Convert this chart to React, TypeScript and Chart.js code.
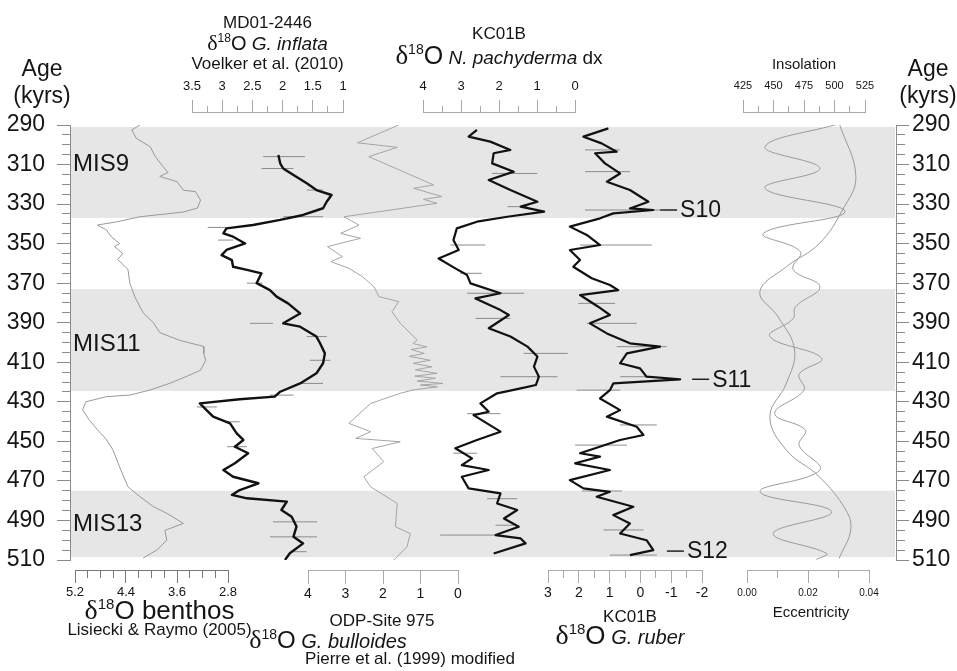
import React, { useEffect, useRef } from 'react';
import { Chart, registerables } from 'chart.js';

Chart.register(...registerables);

// ---------------- data ----------------
const AGE_MIN = 290;
const AGE_MAX = 510;
const AGE_TICK_LABELS = [290, 310, 330, 350, 370, 390, 410, 430, 450, 470, 490, 510];
const AGE_TICKS = Array.from({ length: 45 }, (_, i) => 290 + 5 * i);

const MIS_BANDS: [number, number][] = [[291, 337], [373, 424.5], [475, 508.5]];
const MIS_LABELS = ['MIS9', 'MIS11', 'MIS13'];
const MIS_LABEL_AGES = [310, 401, 492];

const S_LABELS = ['S10', 'S11', 'S12'];
const S_LABEL_AGES = [333, 418.6, 505.5];
const S_LABEL_RUBER = [-0.64, -1.68, -0.86];

// benthic d18O (Lisiecki & Raymo 2005)
const BENTHOS_AGE = [290, 292.5, 296.7, 301, 306, 311, 314, 316, 318.7, 323, 323.7, 328, 332, 334, 336.4, 339, 340.6, 343, 346.5, 350, 351.5, 355, 358, 363, 370, 377, 382, 385, 390, 395, 399, 402, 405.5, 409, 414, 417, 420.6, 424, 426.6, 427.4, 430, 434, 439, 444, 449, 454, 463, 473, 478, 483, 486.4, 491.5, 495, 500, 505, 509];
const BENTHOS_D18O = [4.18, 4.31, 4.24, 4.02, 3.94, 3.82, 3.74, 3.87, 3.6, 3.5, 3.31, 3.23, 3.28, 3.5, 4.18, 4.55, 4.85, 4.71, 4.63, 4.5, 4.58, 4.45, 4.53, 4.37, 4.34, 4.26, 4.18, 4.13, 3.97, 3.87, 3.55, 3.18, 3.18, 3.15, 3.23, 3.44, 3.71, 4.02, 4.34, 4.71, 5.03, 5.08, 4.98, 4.85, 4.71, 4.61, 4.5, 4.37, 4.18, 3.97, 3.76, 3.5, 3.79, 3.76, 3.92, 4.13];

// G. inflata MD01-2446
const INFLATA_AGE = [305.2, 309.4, 312, 315.3, 319.5, 322.9, 325.4, 328.8, 332.1, 335.5, 338, 340.6, 342.3, 344.8, 346.5, 349.9, 353.2, 355.8, 358.3, 361.7, 363.3, 365, 370, 373.5, 376.8, 380.2, 385.3, 390.3, 392, 397, 400.4, 405.5, 410.5, 415.6, 420.7, 424.9, 427.4, 428.7, 430.8, 434.2, 437.5, 440.9, 446, 449.3, 452.7, 456, 461.1, 464.5, 467.9, 471.2, 474.6, 477.1, 478.8, 480.5, 484.7, 488.1, 493.1, 498.2, 501.6, 506.6, 510];
const INFLATA_D18O = [2.07, 2.04, 1.99, 1.82, 1.6, 1.44, 1.19, 1.27, 1.33, 1.66, 2.04, 2.49, 2.93, 2.98, 2.82, 2.62, 2.93, 3.01, 2.84, 2.82, 2.59, 2.35, 2.43, 2.21, 2.1, 1.91, 1.71, 1.99, 1.71, 1.44, 1.38, 1.3, 1.33, 1.44, 1.71, 2.04, 2.13, 2.71, 3.37, 3.26, 3.15, 2.87, 2.76, 2.65, 2.79, 2.57, 2.79, 2.98, 2.82, 2.4, 2.71, 2.84, 2.59, 1.93, 2.02, 1.85, 1.77, 1.82, 1.66, 1.88, 1.96];
const INFLATA_RANGES: [number, number, number][] = [[306, 2.32, 1.63], [312, 2.35, 1.82], [322.9, 1.6, 1.33], [336.4, 1.99, 1.33], [341.8, 3.24, 2.93], [348.2, 3.07, 2.82], [370, 2.59, 2.33], [390.3, 2.54, 2.16], [397, 1.6, 1.27], [409, 1.55, 1.21], [420.7, 1.71, 1.33], [426.6, 2.21, 1.82], [432.6, 3.42, 3.09], [440.1, 2.95, 2.71], [452.7, 2.92, 2.59], [490.7, 2.16, 1.43], [498.3, 2.21, 1.43], [505.8, 1.82, 1.6]];

// G. bulloides ODP 975
const BULLOIDES_AGE = [290, 299, 301.3, 306, 320.3, 322, 326.2, 327.6, 329.6, 336.4, 340.6, 344.8, 347.3, 351.5, 356.6, 359.1, 362.5, 366.7, 371.8, 376.8, 379.3, 384.4, 390.3, 398.7, 400.5, 402.2, 403.5, 405.5, 407, 409, 410.5, 412.3, 413.8, 415.6, 417, 418.1, 419.5, 420.7, 421.5, 422.4, 424, 425.7, 430.8, 440.9, 445.1, 448.5, 450.2, 453.6, 460.3, 467.9, 473, 481.4, 493.2, 496.6, 503.3, 510];
const BULLOIDES_D18O = [1.58, 2.68, 1.62, 2.38, 0.65, 1.18, 0.43, 0.92, 0.56, 3.04, 2.64, 3.13, 2.6, 3.48, 3.08, 3.39, 2.91, 2.55, 2.24, 2.11, 1.58, 1.76, 1.54, 1.09, 1.2, 0.83, 1.25, 0.9, 1.3, 0.74, 1.2, 0.7, 1.14, 0.56, 1.15, 0.6, 1.09, 0.4, 1.0, 0.55, 1.2, 1.54, 2.33, 2.91, 2.33, 2.73, 1.54, 2.29, 1.98, 2.51, 2.33, 1.62, 1.67, 1.27, 1.36, 1.71];

// N. pachyderma dx KC01B
const PACHY_AGE = [292.5, 295.9, 298.4, 302.6, 304.3, 309.4, 313.6, 317.8, 322.9, 328.8, 331.3, 333.8, 336.4, 338.9, 342.3, 348.2, 353.2, 357.5, 362.5, 365.9, 370.1, 375.1, 377.7, 383.6, 386.1, 392.8, 397, 402.1, 407.1, 412.2, 417.3, 421.5, 423.2, 425.7, 430.8, 435, 436.7, 445.1, 449.3, 453.5, 458.6, 462, 464.5, 467.9, 473.8, 476.3, 481.4, 484.7, 489, 493.2, 497.4, 499.1, 501.6, 506.7];
const PACHY_D18O = [2.58, 2.8, 2.23, 1.7, 2.14, 2.18, 1.61, 2.27, 1.7, 0.99, 1.43, 0.81, 1.78, 2.58, 3.11, 3.2, 3.06, 3.59, 3.15, 2.84, 2.75, 1.96, 2.62, 1.96, 1.74, 2.27, 1.7, 1.25, 0.99, 1.08, 0.95, 1.03, 1.43, 2.05, 2.49, 2.27, 2.67, 1.96, 2.58, 3.15, 2.71, 2.98, 2.27, 2.98, 2.8, 1.96, 2.05, 1.52, 1.87, 1.48, 2.09, 1.43, 1.3, 2.14];
const PACHY_RANGES: [number, number, number][] = [[314.5, 2.18, 0.99], [331.3, 1.78, 1.25], [350.7, 3.28, 2.36], [365, 3.02, 2.45], [375.1, 2.84, 1.34], [387.8, 2.62, 1.7], [405.5, 1.35, 0.19], [417.3, 1.96, 0.46], [436, 2.84, 1.96], [456, 3.2, 2.58], [479, 2.31, 1.52], [492.4, 2.09, 1.61], [497.4, 3.55, 2.05]];

// G. ruber KC01B
const RUBER_AGE = [291.7, 295.9, 299.3, 303.5, 304.3, 309.4, 314.5, 318.7, 322.9, 328.8, 332.2, 333, 334.7, 337.2, 341.4, 345.6, 350.7, 353.2, 358.3, 361.7, 367.5, 370.9, 373.5, 376, 381.9, 386.1, 390.3, 395.4, 400.4, 402.1, 405.5, 410.5, 413.1, 417.3, 418.6, 420.7, 424.1, 428.3, 434.2, 437.5, 442.6, 446.8, 449.3, 456, 457.7, 461.1, 464.5, 469.6, 473.8, 475.5, 478, 483.1, 487.3, 491.5, 496.6, 500, 505, 507.5];
const RUBER_D18O = [1.04, 1.85, 1.26, 0.77, 1.47, 1.15, 0.66, 1.09, 0.34, -0.26, 0.34, -0.42, 0.88, 1.31, 2.29, 1.74, 1.31, 2.29, 1.96, 2.18, 1.58, 0.99, 0.72, 1.96, 1.37, 0.99, 1.64, 1.09, 0.34, -0.64, 0.44, 0.66, 0.01, -0.2, -1.29, 0.88, 0.99, 1.31, 0.66, 1.09, 0.12, -0.1, 0.66, 1.96, 1.31, 2.12, 0.99, 2.29, 1.85, 0.99, 1.42, 0.23, 0.88, 0.34, 0.66, -0.2, -0.42, 0.34];
const RUBER_RANGES: [number, number, number][] = [[302.6, 1.8, 0.66], [313.6, 1.8, 0.34], [333, 1.8, -0.64], [350.7, 1.96, -0.37], [380.2, 2.02, 0.82], [390.3, 1.74, 0.12], [402.1, 0.77, -0.85], [417.3, 0.66, -0.31], [424.1, 2.07, 0.66], [441.7, 0.66, -0.53], [451.9, 2.12, 0.44], [475.1, 1.9, 0.6], [494.8, 1.2, -0.1], [507.5, 0.99, -0.53]];

// insolation and eccentricity
const INSOL_AGE = [289.2, 301, 312, 322, 333.8, 344.8, 354, 363, 371.8, 382, 388, 397, 408, 416, 424, 435.9, 444.3, 452, 464.5, 475.5, 485.6, 496.6, 506.7, 509.7];
const INSOL_WM2 = [504.5, 443, 488, 443, 508.6, 441.7, 472, 466, 488, 468, 466, 447, 489.5, 471, 475, 451, 476, 471, 488, 439, 497.7, 449.8, 493.6, 485];
const ECC_AGE = [289, 316, 333, 350, 361.7, 374.3, 387, 403.8, 420.7, 437.5, 454.4, 467.9, 484.7, 494.8, 509.2];
const ECC_VAL = [0.0302, 0.0357, 0.0313, 0.0237, 0.0129, 0.0042, 0.0102, 0.0156, 0.0129, 0.0075, 0.0129, 0.0237, 0.0324, 0.034, 0.0302];

// axis ticks
const INFLATA_TICKS = [1, 1.25, 1.5, 1.75, 2, 2.25, 2.5, 2.75, 3, 3.25, 3.5];
const INFLATA_LABELS = [3.5, 3, 2.5, 2, 1.5, 1];
const PACHY_TICKS = [0, 0.5, 1, 1.5, 2, 2.5, 3, 3.5, 4];
const PACHY_LABELS = [4, 3, 2, 1, 0];
const INSOL_TICKS = [425, 437.5, 450, 462.5, 475, 487.5, 500, 512.5, 525];
const INSOL_LABELS = [425, 450, 475, 500, 525];
const BENTHOS_TICKS = [2.8, 3.0, 3.2, 3.4, 3.6, 3.8, 4.0, 4.2, 4.4, 4.6, 4.8, 5.0, 5.2];
const BENTHOS_LABELS = [5.2, 4.4, 3.6, 2.8];
const BULL_TICKS = [0, 1, 2, 3, 4];
const BULL_LABELS = [4, 3, 2, 1, 0];
const RUBER_TICKS = [-2, -1.5, -1, -0.5, 0, 0.5, 1, 1.5, 2, 2.5, 3];
const RUBER_LABELS = [3, 2, 1, 0, -1, -2];
const ECC_TICKS = [0, 0.01, 0.02, 0.03, 0.04];
const ECC_LABELS = [0, 0.02, 0.04];

// ---------------- helpers ----------------
const FAM = '"Liberation Sans", Arial, Helvetica, sans-serif';
const sans = (s: number, style = '') => `${style} ${s}px ${FAM}`.trim();
const serif = (s: number) => `${s}px "Liberation Serif", "DejaVu Serif", serif`;
const has = (arr: number[], v: any) => typeof v === 'number' && arr.some((a) => Math.abs(a - v) < 1e-9);
const TXT = '#151515';

type Part = { t: string; f: string; dy?: number };
function drawRich(ctx: CanvasRenderingContext2D, parts: Part[], cx: number, y: number) {
  let w = 0;
  parts.forEach((p) => { ctx.font = p.f; w += ctx.measureText(p.t).width; });
  let x = cx - w / 2;
  ctx.textAlign = 'left';
  ctx.textBaseline = 'alphabetic';
  parts.forEach((p) => {
    ctx.font = p.f;
    ctx.fillText(p.t, x, y + (p.dy || 0));
    x += ctx.measureText(p.t).width;
  });
}
const d18O = (big: number, sup: number): Part[] => [
  { t: 'δ', f: serif(big + 2) },
  { t: '18', f: sans(sup), dy: -Math.round(big * 0.38) },
  { t: 'O', f: sans(big) },
];

interface AxOpt {
  position: 'top' | 'bottom'; stack: string; weight: number; stackWeight: number;
  min: number; max: number; reverse: boolean; ticks: number[]; labels: number[];
  fmt: (v: number) => string; fontSize: number; pad: number; major: number; minor: number;
  height: number; color: string;
}
function dataAxis(o: AxOpt) {
  const outerFirst = o.position === 'top';
  return {
    type: 'linear', axis: 'x', position: o.position, stack: o.stack, weight: o.weight, stackWeight: o.stackWeight,
    min: o.min, max: o.max, reverse: o.reverse, offset: false,
    afterBuildTicks: (s: any) => { s.ticks = o.ticks.map((v) => ({ value: v })); },
    afterFit: (s: any) => { s.height = o.height; s.paddingLeft = 0; s.paddingRight = 0; },
    ticks: {
      autoSkip: false, maxRotation: 0, minRotation: 0, padding: o.pad, color: TXT,
      font: { family: FAM, size: o.fontSize },
      callback: (v: number) => (has(o.labels, v) ? o.fmt(v) : ''),
    },
    grid: {
      display: true, drawOnChartArea: false, drawTicks: true, tickLength: o.major, tickColor: o.color, tickWidth: 1,
      tickBorderDash: (c: any) => (has(o.labels, c.tick && c.tick.value) ? [] : [o.minor, o.major - o.minor]),
      tickBorderDashOffset: (c: any) => (has(o.labels, c.tick && c.tick.value) ? 0 : outerFirst ? o.minor : 0),
    },
    border: { display: true, color: o.color, width: 1 },
  };
}
function spacer(position: 'top' | 'bottom', stack: string | undefined, weight: number, stackWeight: number, height: number) {
  return {
    type: 'linear', axis: 'x', position, stack, weight, stackWeight, min: 0, max: 1, display: true,
    grid: { display: false }, border: { display: false }, ticks: { display: false },
    afterFit: (s: any) => { s.height = height; s.paddingLeft = 0; s.paddingRight = 0; },
  };
}
function ageAxis(position: 'left' | 'right', width: number, pad: number) {
  const outerFirst = position === 'left';
  const major = 13, minor = 8;
  return {
    type: 'linear', axis: 'y', position, weight: 0, min: AGE_MIN, max: AGE_MAX, reverse: true,
    afterBuildTicks: (s: any) => { s.ticks = AGE_TICKS.map((v) => ({ value: v })); },
    afterFit: (s: any) => { s.width = width; s.paddingTop = 0; s.paddingBottom = 0; },
    ticks: {
      autoSkip: false, padding: pad, color: TXT, font: { family: FAM, size: 23 },
      callback: (v: number) => (has(AGE_TICK_LABELS, v) ? String(v) : ''),
    },
    grid: {
      display: true, drawOnChartArea: false, drawTicks: true, tickLength: major, tickColor: '#8a8a8a', tickWidth: 1,
      tickBorderDash: (c: any) => (has(AGE_TICK_LABELS, c.tick && c.tick.value) ? [] : [minor, major - minor]),
      tickBorderDashOffset: (c: any) => (has(AGE_TICK_LABELS, c.tick && c.tick.value) ? 0 : outerFirst ? minor : 0),
    },
    border: { display: true, color: '#8a8a8a', width: 1 },
  };
}

const pts = (ages: number[], vals: number[]) => ages.map((a, i) => ({ x: vals[i], y: a }));
const bars = (r: [number, number, number][]) => r.flatMap(([a, lo, hi]) => [{ x: lo, y: a }, { x: hi, y: a }, { x: null, y: a }]);
const lineDs = (id: string, data: any[], color: string, width: number, tension = 0) => ({
  type: 'line', data, xAxisID: id, yAxisID: 'y', borderColor: color, borderWidth: width,
  pointRadius: 0, pointHoverRadius: 0, fill: false, tension, borderJoinStyle: 'round', borderCapStyle: 'butt',
});

const decor = {
  id: 'decor',
  beforeDraw(chart: any) {
    const { ctx, chartArea: a, scales } = chart;
    const y = scales.y;
    ctx.save();
    ctx.fillStyle = '#e6e6e6';
    MIS_BANDS.forEach(([s, e]) => {
      const y1 = y.getPixelForValue(s);
      const y2 = y.getPixelForValue(e);
      ctx.fillRect(a.left + 1, y1, a.right - a.left - 2, y2 - y1);
    });
    ctx.restore();
  },
  afterDraw(chart: any) {
    const { ctx, scales } = chart;
    const y = scales.y;
    const mid = (id: string) => (scales[id].left + scales[id].right) / 2;
    ctx.save();
    ctx.fillStyle = TXT;
    // MIS labels
    ctx.font = sans(24);
    ctx.textAlign = 'left';
    ctx.textBaseline = 'middle';
    MIS_LABELS.forEach((t, i) => ctx.fillText(t, chart.chartArea.left + 3, y.getPixelForValue(MIS_LABEL_AGES[i])));
    // S labels
    const rs = scales.ruber;
    S_LABELS.forEach((t, i) => {
      const px = rs.getPixelForValue(S_LABEL_RUBER[i]);
      const py = y.getPixelForValue(S_LABEL_AGES[i]);
      ctx.strokeStyle = '#222';
      ctx.lineWidth = 1.5;
      ctx.beginPath();
      ctx.moveTo(px, py);
      ctx.lineTo(px + 17, py);
      ctx.stroke();
      ctx.font = sans(23);
      ctx.textAlign = 'left';
      ctx.textBaseline = 'middle';
      ctx.fillText(t, px + 20, py + 1);
    });
    // Age (kyrs)
    ctx.font = sans(23);
    ctx.textAlign = 'center';
    ctx.textBaseline = 'middle';
    [42, 928].forEach((x) => {
      ctx.fillText('Age', x, 70);
      ctx.fillText('(kyrs)', x, 97);
    });
    // top titles
    const ci = mid('inflata');
    drawRich(ctx, [{ t: 'MD01-2446', f: sans(17) }], ci, 28);
    drawRich(ctx, [...d18O(20, 12), { t: ' G. inflata', f: sans(19, 'italic') }], ci, 50);
    drawRich(ctx, [{ t: 'Voelker et al. (2010)', f: sans(17) }], ci, 69);
    const cp = mid('pachy');
    drawRich(ctx, [{ t: 'KC01B', f: sans(17) }], cp, 39);
    drawRich(ctx, [...d18O(25, 14), { t: ' N. pachyderma', f: sans(19, 'italic') }, { t: ' dx', f: sans(19) }], cp, 64);
    drawRich(ctx, [{ t: 'Insolation', f: sans(15) }], mid('insol'), 69);
    // bottom titles
    const cb = mid('benthos');
    drawRich(ctx, [...d18O(26, 15), { t: ' benthos', f: sans(26) }], cb + 8, 619);
    drawRich(ctx, [{ t: 'Lisiecki & Raymo (2005)', f: sans(17) }], cb + 8, 635);
    const cu = mid('bull');
    drawRich(ctx, [{ t: 'ODP-Site 975', f: sans(17) }], cu - 1, 626);
    drawRich(ctx, [...d18O(24, 14), { t: ' G. bulloides', f: sans(20, 'italic') }], cu - 55, 648);
    drawRich(ctx, [{ t: 'Pierre et al. (1999) modified', f: sans(17) }], cu + 27, 664);
    const cr = mid('ruber');
    drawRich(ctx, [{ t: 'KC01B', f: sans(17) }], cr + 5, 622);
    drawRich(ctx, [...d18O(26, 15), { t: ' G. ruber', f: sans(20, 'italic') }], cr - 5, 644);
    drawRich(ctx, [{ t: 'Eccentricity', f: sans(15) }], mid('ecc') + 3, 617);
    ctx.restore();
  },
};

export default function App() {
  const ref = useRef<HTMLCanvasElement>(null);
  useEffect(() => {
    if (!ref.current) return;
    const topStackH = 112;
    const botStackH = 101;
    const scales: any = {
      y: ageAxis('left', 70, 12),
      y2: ageAxis('right', 61, 3),
      // top stack (left -> right, higher weight first)
      t0: spacer('top', 'tops', 20, 122, topStackH),
      inflata: dataAxis({ position: 'top', stack: 'tops', weight: 19, stackWeight: 151, min: 1, max: 3.5, reverse: true, ticks: INFLATA_TICKS, labels: INFLATA_LABELS, fmt: (v) => String(v), fontSize: 13, pad: 6, major: 12, minor: 6, height: topStackH, color: '#a8a8a8' }),
      t2: spacer('top', 'tops', 18, 80, topStackH),
      pachy: dataAxis({ position: 'top', stack: 'tops', weight: 17, stackWeight: 152, min: 0, max: 4, reverse: true, ticks: PACHY_TICKS, labels: PACHY_LABELS, fmt: (v) => String(v), fontSize: 13, pad: 6, major: 12, minor: 6, height: topStackH, color: '#a8a8a8' }),
      t4: spacer('top', 'tops', 16, 168, topStackH),
      insol: dataAxis({ position: 'top', stack: 'tops', weight: 15, stackWeight: 122, min: 425, max: 525, reverse: false, ticks: INSOL_TICKS, labels: INSOL_LABELS, fmt: (v) => String(v), fontSize: 11, pad: 7, major: 12, minor: 6, height: topStackH, color: '#a8a8a8' }),
      t6: spacer('top', 'tops', 14, 31, topStackH),
      tgap: spacer('top', undefined, 0, 1, 13),
      // bottom stack (left -> right, lower weight first)
      bgap: spacer('bottom', undefined, 0, 1, 10),
      b0: spacer('bottom', 'bots', 10, 5, botStackH),
      benthos: dataAxis({ position: 'bottom', stack: 'bots', weight: 11, stackWeight: 153, min: 2.8, max: 5.2, reverse: true, ticks: BENTHOS_TICKS, labels: BENTHOS_LABELS, fmt: (v) => v.toFixed(1), fontSize: 13, pad: 2, major: 13, minor: 7, height: botStackH, color: '#777' }),
      b2: spacer('bottom', 'bots', 12, 80, botStackH),
      bull: dataAxis({ position: 'bottom', stack: 'bots', weight: 13, stackWeight: 150, min: 0, max: 4, reverse: true, ticks: BULL_TICKS, labels: BULL_LABELS, fmt: (v) => String(v), fontSize: 14, pad: 2, major: 14, minor: 7, height: botStackH, color: '#aaa' }),
      b4: spacer('bottom', 'bots', 14, 90, botStackH),
      ruber: dataAxis({ position: 'bottom', stack: 'bots', weight: 15, stackWeight: 154, min: -2, max: 3, reverse: true, ticks: RUBER_TICKS, labels: RUBER_LABELS, fmt: (v) => String(v), fontSize: 14, pad: 2, major: 13, minor: 7, height: botStackH, color: '#aaa' }),
      b6: spacer('bottom', 'bots', 16, 45, botStackH),
      ecc: dataAxis({ position: 'bottom', stack: 'bots', weight: 17, stackWeight: 122, min: 0, max: 0.04, reverse: false, ticks: ECC_TICKS, labels: ECC_LABELS, fmt: (v) => v.toFixed(2), fontSize: 10, pad: 4, major: 13, minor: 7, height: botStackH, color: '#aaa' }),
      b8: spacer('bottom', 'bots', 18, 27, botStackH),
    };
    const datasets: any[] = [
      lineDs('inflata', pts(INFLATA_AGE, INFLATA_D18O), '#111', 2.4),
      lineDs('pachy', pts(PACHY_AGE, PACHY_D18O), '#111', 2.2),
      lineDs('ruber', pts(RUBER_AGE, RUBER_D18O), '#111', 2.2),
      lineDs('inflata', bars(INFLATA_RANGES), '#8c8c8c', 1),
      lineDs('pachy', bars(PACHY_RANGES), '#8c8c8c', 1),
      lineDs('ruber', bars(RUBER_RANGES), '#8c8c8c', 1),
      lineDs('benthos', pts(BENTHOS_AGE, BENTHOS_D18O), '#999', 1),
      lineDs('bull', pts(BULLOIDES_AGE, BULLOIDES_D18O), '#a5a5a5', 1),
      lineDs('insol', pts(INSOL_AGE, INSOL_WM2), '#9a9a9a', 1, 0.4),
      lineDs('ecc', pts(ECC_AGE, ECC_VAL), '#9a9a9a', 1, 0.4),
    ];
    const chart = new Chart(ref.current, {
      type: 'line',
      data: { datasets },
      options: {
        animation: false,
        responsive: false,
        devicePixelRatio: 1,
        events: [],
        layout: { padding: 0 },
        plugins: { legend: { display: false }, tooltip: { enabled: false }, title: { display: false } },
        scales,
      } as any,
      plugins: [decor],
    } as any);
    return () => chart.destroy();
  }, []);
  return (
    <div style={{ position: 'absolute', left: 0, top: 0, width: 957, height: 671, background: '#fff' }}>
      <canvas ref={ref} width={957} height={671} />
    </div>
  );
}
